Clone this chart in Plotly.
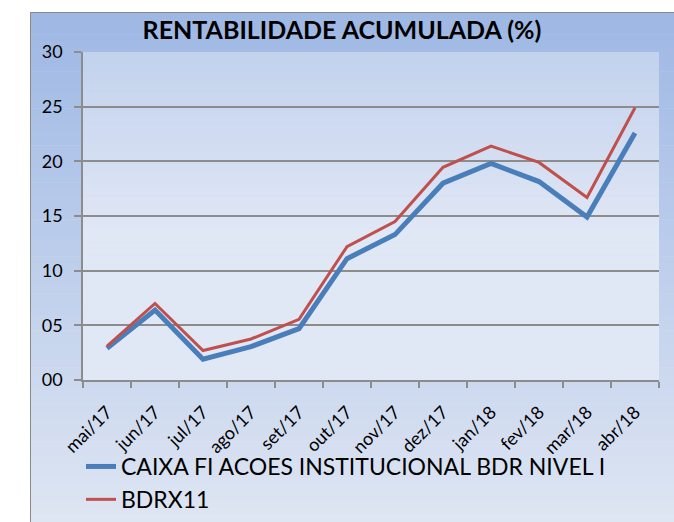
import plotly.graph_objects as go

months = ["mai/17", "jun/17", "jul/17", "ago/17", "set/17", "out/17",
          "nov/17", "dez/17", "jan/18", "fev/18", "mar/18", "abr/18"]
caixa = [2.9, 6.4, 1.9, 3.05, 4.7, 11.1, 13.3, 18.0, 19.8, 18.15, 14.9, 22.6]
bdrx11 = [3.1, 7.0, 2.7, 3.75, 5.55, 12.2, 14.5, 19.45, 21.4, 19.9, 16.7, 24.9]

title_text = "RENTABILIDADE ACUMULADA (%)"
series_names = ["CAIXA FI ACOES INSTITUCIONAL BDR NIVEL I", "BDRX11"]

FONT = "Lato, Open Sans, sans-serif"

W, H = 674, 522
L, R, T, B = 83, 15, 52, 142
pw = W - L - R
ph = H - T - B

def px2x(p):
    return (p - L) / pw

def px2y(p):
    return (H - B - p) / ph

def lerp(c1, c2, t):
    return "rgb(%d,%d,%d)" % tuple(round(a + (b - a) * t) for a, b in zip(c1, c2))

shapes = []
# chart area gradient
top_c = (0x9e, 0xb8, 0xe4)
bot_c = (0xdf, 0xe6, 0xf3)
n = 70
y0p, y1p = 12, 530
for i in range(n):
    a = y0p + (y1p - y0p) * i / n
    b = y0p + (y1p - y0p) * (i + 1) / n
    shapes.append(dict(type="rect", xref="paper", yref="paper", layer="below",
                       x0=px2x(30), x1=px2x(700), y0=px2y(b + 0.5), y1=px2y(a),
                       fillcolor=lerp(top_c, bot_c, i / (n - 1)), line=dict(width=0)))
# plot area gradient
ptop = (0xc3, 0xd2, 0xed)
pbot = (0xe0, 0xe7, 0xf5)
m = 50
for i in range(m):
    a = T + ph * i / m
    b = T + ph * (i + 1) / m
    t = min(1.0, (i / (m - 1)) / 0.55)
    shapes.append(dict(type="rect", xref="paper", yref="paper", layer="below",
                       x0=0, x1=1, y0=px2y(b + 0.5), y1=px2y(a),
                       fillcolor=lerp(ptop, pbot, t), line=dict(width=0)))
# chart area border
shapes.append(dict(type="rect", xref="paper", yref="paper", layer="below",
                   x0=px2x(30.5), x1=px2x(720), y0=px2y(560), y1=px2y(12.5),
                   fillcolor="rgba(0,0,0,0)", line=dict(color="#8a8a8a", width=1)))

fig = go.Figure()
fig.add_trace(go.Scatter(x=months, y=caixa, mode="lines", name=series_names[0],
                         line=dict(color="#4a7ebb", width=5)))
fig.add_trace(go.Scatter(x=months, y=bdrx11, mode="lines", name=series_names[1],
                         line=dict(color="#c0504d", width=3)))

fig.update_layout(
    width=W, height=H,
    margin=dict(l=L, r=R, t=T, b=B, autoexpand=False),
    paper_bgcolor="white", plot_bgcolor="rgba(0,0,0,0)",
    font=dict(family=FONT, color="#000000"),
    shapes=shapes,
    title=dict(text="<b>" + title_text + "</b>", x=342 / W, xanchor="center",
               y=1 - 30 / H, yanchor="middle", font=dict(size=25, family=FONT, color="#000")),
    showlegend=True,
    legend=dict(x=px2x(81), y=px2y(445), xanchor="left", yanchor="top",
                bgcolor="rgba(0,0,0,0)", font=dict(size=23, family=FONT),
                tracegroupgap=0, itemwidth=30),
)
fig.update_xaxes(type="category", tickson="boundaries", ticks="outside", ticklen=6,
                 tickcolor="#8c8c8c", tickwidth=1.5, showline=True, linecolor="#8c8c8c",
                 linewidth=1.5, showgrid=False, tickangle=-45, ticklabelstandoff=13,
                 tickfont=dict(size=18, family=FONT), range=[-0.5, 11.5])
fig.update_yaxes(range=[0, 30], tickvals=[0, 5, 10, 15, 20, 25, 30], tickformat="02d",
                 ticks="outside", ticklen=7, tickcolor="#8c8c8c", tickwidth=1.5,
                 showline=True, linecolor="#8c8c8c", linewidth=1.5, ticklabelstandoff=8,
                 showgrid=True, gridcolor="#8c8c8c", gridwidth=1.5, zeroline=False,
                 tickfont=dict(size=18, family=FONT))

fig.write_html("out.html", config={"displayModeBar": False},
               post_script="document.body.style.margin='0';")
